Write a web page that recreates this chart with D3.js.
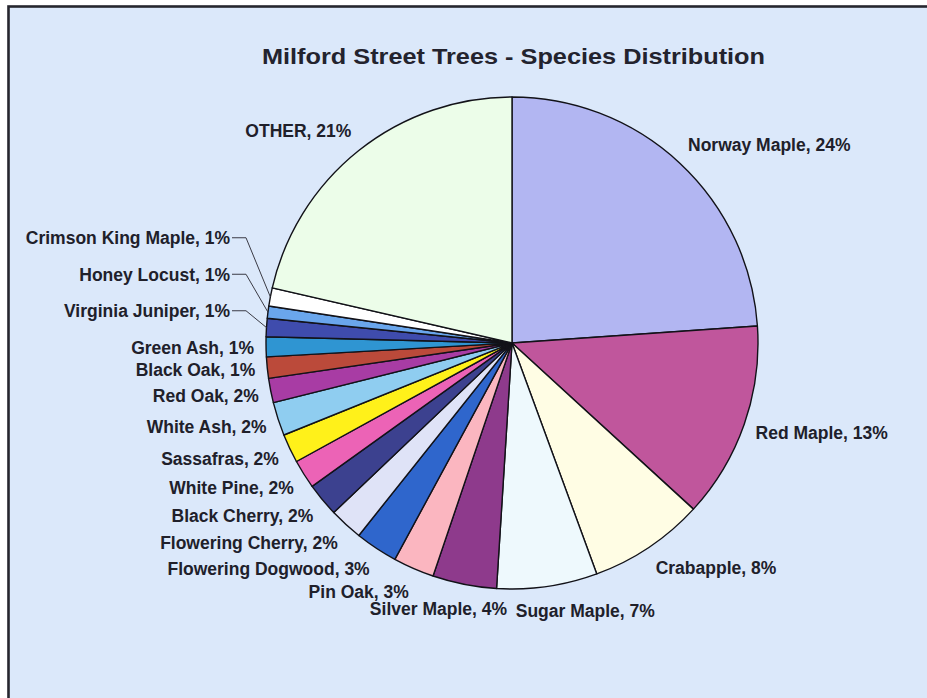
<!DOCTYPE html>
<html>
<head>
<meta charset="utf-8">
<script src="https://cdn.jsdelivr.net/npm/d3@7"></script>
<style>
  html, body { margin: 0; padding: 0; background: #ffffff; overflow: hidden; }
  svg { display: block; }
</style>
</head>
<body>
<svg id="chart" width="927" height="698"></svg>
<script>
// ---- data ----
const title = "Milford Street Trees - Species Distribution";
const categories = [
  "Norway Maple", "Red Maple", "Crabapple", "Sugar Maple", "Silver Maple",
  "Pin Oak", "Flowering Dogwood", "Flowering Cherry", "Black Cherry", "White Pine",
  "Sassafras", "White Ash", "Red Oak", "Black Oak", "Green Ash",
  "Virginia Juniper", "Honey Locust", "Crimson King Maple", "OTHER"
];
const values = [
  23.9, 12.9, 7.6, 6.6, 4.2,
  2.7, 2.8, 2.2, 2.2, 1.9,
  1.9, 2.2, 1.6, 1.4, 1.3,
  1.2, 0.8, 1.2, 21.4
];
const colors = [
  "#b2b6f2", "#c0569c", "#fffde4", "#eef9fd", "#8e3a8c",
  "#fbb6c0", "#2f66cc", "#dfe3f7", "#3c418f", "#ec63b6",
  "#fff11a", "#8fcdf0", "#a83ca4", "#bb4a3a", "#2f95d2",
  "#3f4cad", "#6aa6ec", "#ffffff", "#ecfde9"
];

// ---- layout ----
const W = 927, H = 698;
const cx = 512, cy = 343, R = 246;
const labelPad = 12;
const fontLabel = "'Liberation Sans', Arial, Helvetica, sans-serif";

const svg = d3.select("#chart");

// background panel with border (right/bottom edges fall outside the picture)
svg.append("rect")
  .attr("x", 8.5).attr("y", 6.5)
  .attr("width", W + 40).attr("height", H + 40)
  .attr("fill", "#dbe8fa")
  .attr("stroke", "#26262e")
  .attr("stroke-width", 2.6);

// title
svg.append("text")
  .attr("x", 513.5).attr("y", 64)
  .attr("text-anchor", "middle")
  .attr("font-family", fontLabel)
  .attr("font-weight", "bold")
  .attr("font-size", 22)
  .attr("textLength", 503)
  .attr("lengthAdjust", "spacingAndGlyphs")
  .attr("fill", "#23232e")
  .text(title);

const data = categories.map((c, i) => ({ name: c, value: values[i], color: colors[i] }));
const pie = d3.pie().sort(null).value(d => d.value).startAngle(0).endAngle(2 * Math.PI);
const arcs = pie(data);
const total = d3.sum(values);
const arc = d3.arc().innerRadius(0).outerRadius(R);

const g = svg.append("g").attr("transform", `translate(${cx},${cy})`);
g.selectAll("path.slice")
  .data(arcs)
  .join("path")
  .attr("class", "slice")
  .attr("d", arc)
  .attr("fill", d => d.data.color)
  .attr("stroke", "#121218")
  .attr("stroke-width", 1.4)
  .attr("stroke-linejoin", "round");

// ---- labels ----
const lh = 18;
const labels = arcs.map(a => {
  const mid = (a.startAngle + a.endAngle) / 2;
  const s = Math.sin(mid), c = Math.cos(mid);
  const px = (R + labelPad) * s;
  const py = -(R + labelPad) * c;
  let x = px;
  if (Math.abs(s) < 0.35) x = px * 0.1;
  const y = py - (lh / 2 + 4) * c;
  const pct = Math.round(a.data.value / total * 100);
  return { text: `${a.data.name}, ${pct}%`, mid, s, c, x, y, anchor: s >= 0 ? "start" : "end", callout: false };
});

// resolve collisions on the left side: go upward from the bottom
const left = labels.filter(l => l.s < 0 && Math.abs(l.s) >= 0.35).sort((a, b) => b.y - a.y);
let prev = null;
const calloutStep = 36.5, minGap = 22;
left.forEach(l => {
  if (prev && l.y > prev.y - minGap) {
    l.callout = true;
    l.y = prev.y - calloutStep;
    l.x = -R - 36;
  }
  prev = l;
});

const lg = svg.append("g").attr("transform", `translate(${cx},${cy})`);
// leader lines
lg.selectAll("path.leader")
  .data(labels.filter(l => l.callout))
  .join("path")
  .attr("class", "leader")
  .attr("d", l => {
    const x0 = l.x + 2, x1 = l.x + 16;
    const ex = R * Math.sin(l.mid), ey = -R * Math.cos(l.mid);
    return `M${x0},${l.y}L${x1},${l.y}L${ex},${ey}`;
  })
  .attr("fill", "none")
  .attr("stroke", "#3a3a44")
  .attr("stroke-width", 1);

lg.selectAll("text.lbl")
  .data(labels)
  .join("text")
  .attr("class", "lbl")
  .attr("x", l => l.x)
  .attr("y", l => l.y)
  .attr("dy", "0.36em")
  .attr("text-anchor", l => l.anchor)
  .attr("font-family", fontLabel)
  .attr("font-weight", "bold")
  .attr("font-size", 17.5)
  .attr("fill", "#20202a")
  .text(l => l.text);
</script>
</body>
</html>
